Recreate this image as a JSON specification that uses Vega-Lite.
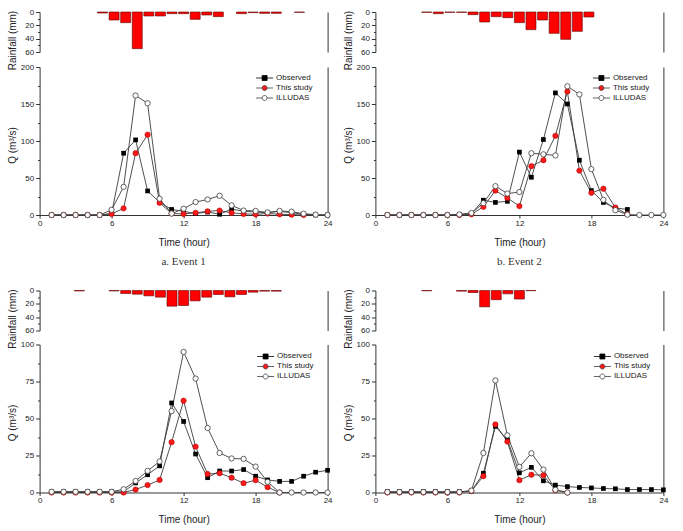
{
"$schema": "https://vega.github.io/schema/vega-lite/v6.json",
"padding": {"left": 7.6, "top": 8, "right": 0, "bottom": 0},
"config": {
  "font": "Liberation Sans",
  "view": {"stroke": null},
  "axis": {"domainColor": "#333333", "tickColor": "#333333", "labelColor": "#222222", "titleColor": "#222222", "labelFont": "Liberation Sans", "titleFont": "Liberation Sans", "labelFontSize": 8, "titleFontSize": 10, "titleFontWeight": "normal", "domainWidth": 1, "tickWidth": 1, "grid": false},
  "legend": {"labelFont": "Liberation Sans"}
},
"datasets": {
"rain": [
{"e":1,"h":5,"r":1.5},{"e":1,"h":6,"r":12},{"e":1,"h":7,"r":16},{"e":1,"h":8,"r":55},{"e":1,"h":9,"r":6},{"e":1,"h":10,"r":6},{"e":1,"h":11,"r":2.5},{"e":1,"h":12,"r":2.5},{"e":1,"h":13,"r":11},{"e":1,"h":14,"r":4.5},{"e":1,"h":15,"r":7},{"e":1,"h":17,"r":2.5},{"e":1,"h":18,"r":1},{"e":1,"h":19,"r":2},{"e":1,"h":20,"r":2},{"e":1,"h":22,"r":0.5},
{"e":2,"h":4,"r":0.5},{"e":2,"h":5,"r":2.5},{"e":2,"h":6,"r":0.5},{"e":2,"h":7,"r":0.5},{"e":2,"h":8,"r":4},{"e":2,"h":9,"r":15},{"e":2,"h":10,"r":7},{"e":2,"h":11,"r":8.5},{"e":2,"h":12,"r":16},{"e":2,"h":13,"r":26.5},{"e":2,"h":14,"r":12},{"e":2,"h":15,"r":32},{"e":2,"h":16,"r":41},{"e":2,"h":17,"r":29},{"e":2,"h":18,"r":7.5},
{"e":3,"h":3,"r":0.7},{"e":3,"h":6,"r":0.7},{"e":3,"h":7,"r":4.5},{"e":3,"h":8,"r":5.5},{"e":3,"h":9,"r":8},{"e":3,"h":10,"r":10},{"e":3,"h":11,"r":23.5},{"e":3,"h":12,"r":22.5},{"e":3,"h":13,"r":15.5},{"e":3,"h":14,"r":10},{"e":3,"h":15,"r":6},{"e":3,"h":16,"r":9.5},{"e":3,"h":17,"r":6},{"e":3,"h":18,"r":2.5},{"e":3,"h":19,"r":1},{"e":3,"h":20,"r":1},
{"e":4,"h":4,"r":0.5},{"e":4,"h":7,"r":1},{"e":4,"h":8,"r":3},{"e":4,"h":9,"r":24.5},{"e":4,"h":10,"r":13.8},{"e":4,"h":11,"r":5},{"e":4,"h":12,"r":12.8},{"e":4,"h":13,"r":0.3}
],
"flow": [
{"e":1,"s":"Observed","h":1,"q":0},{"e":1,"s":"Observed","h":2,"q":0},{"e":1,"s":"Observed","h":3,"q":0},{"e":1,"s":"Observed","h":4,"q":0},{"e":1,"s":"Observed","h":5,"q":0},{"e":1,"s":"Observed","h":6,"q":2},{"e":1,"s":"Observed","h":7,"q":83.5},{"e":1,"s":"Observed","h":8,"q":101.5},{"e":1,"s":"Observed","h":9,"q":32.5},{"e":1,"s":"Observed","h":10,"q":17},{"e":1,"s":"Observed","h":11,"q":7.5},{"e":1,"s":"Observed","h":12,"q":5},{"e":1,"s":"Observed","h":13,"q":2},{"e":1,"s":"Observed","h":14,"q":4},{"e":1,"s":"Observed","h":15,"q":1},{"e":1,"s":"Observed","h":16,"q":8},{"e":1,"s":"Observed","h":17,"q":5},{"e":1,"s":"Observed","h":18,"q":4},{"e":1,"s":"Observed","h":19,"q":3},{"e":1,"s":"Observed","h":20,"q":5},{"e":1,"s":"Observed","h":21,"q":3},{"e":1,"s":"Observed","h":22,"q":1},{"e":1,"s":"Observed","h":23,"q":0},{"e":1,"s":"Observed","h":24,"q":0},
{"e":1,"s":"This study","h":1,"q":0},{"e":1,"s":"This study","h":2,"q":0},{"e":1,"s":"This study","h":3,"q":0},{"e":1,"s":"This study","h":4,"q":0},{"e":1,"s":"This study","h":5,"q":0},{"e":1,"s":"This study","h":6,"q":1.5},{"e":1,"s":"This study","h":7,"q":9},{"e":1,"s":"This study","h":8,"q":83.5},{"e":1,"s":"This study","h":9,"q":108.5},{"e":1,"s":"This study","h":10,"q":16.5},{"e":1,"s":"This study","h":11,"q":2},{"e":1,"s":"This study","h":12,"q":1.5},{"e":1,"s":"This study","h":13,"q":3},{"e":1,"s":"This study","h":14,"q":5},{"e":1,"s":"This study","h":15,"q":6},{"e":1,"s":"This study","h":16,"q":3},{"e":1,"s":"This study","h":17,"q":1.5},{"e":1,"s":"This study","h":18,"q":1},{"e":1,"s":"This study","h":19,"q":2},{"e":1,"s":"This study","h":20,"q":1},{"e":1,"s":"This study","h":21,"q":0.5},{"e":1,"s":"This study","h":22,"q":0},
{"e":1,"s":"ILLUDAS","h":1,"q":0},{"e":1,"s":"ILLUDAS","h":2,"q":0},{"e":1,"s":"ILLUDAS","h":3,"q":0},{"e":1,"s":"ILLUDAS","h":4,"q":0},{"e":1,"s":"ILLUDAS","h":5,"q":0},{"e":1,"s":"ILLUDAS","h":6,"q":7},{"e":1,"s":"ILLUDAS","h":7,"q":38},{"e":1,"s":"ILLUDAS","h":8,"q":161.5},{"e":1,"s":"ILLUDAS","h":9,"q":151},{"e":1,"s":"ILLUDAS","h":10,"q":22},{"e":1,"s":"ILLUDAS","h":11,"q":2},{"e":1,"s":"ILLUDAS","h":12,"q":8.5},{"e":1,"s":"ILLUDAS","h":13,"q":17.5},{"e":1,"s":"ILLUDAS","h":14,"q":21},{"e":1,"s":"ILLUDAS","h":15,"q":26},{"e":1,"s":"ILLUDAS","h":16,"q":13},{"e":1,"s":"ILLUDAS","h":17,"q":6},{"e":1,"s":"ILLUDAS","h":18,"q":5.5},{"e":1,"s":"ILLUDAS","h":19,"q":3.5},{"e":1,"s":"ILLUDAS","h":20,"q":5.5},{"e":1,"s":"ILLUDAS","h":21,"q":4.5},{"e":1,"s":"ILLUDAS","h":22,"q":1.8},{"e":1,"s":"ILLUDAS","h":23,"q":0.5},{"e":1,"s":"ILLUDAS","h":24,"q":0},
{"e":2,"s":"Observed","h":1,"q":0},{"e":2,"s":"Observed","h":2,"q":0},{"e":2,"s":"Observed","h":3,"q":0},{"e":2,"s":"Observed","h":4,"q":0},{"e":2,"s":"Observed","h":5,"q":0},{"e":2,"s":"Observed","h":6,"q":0},{"e":2,"s":"Observed","h":7,"q":0.5},{"e":2,"s":"Observed","h":8,"q":2},{"e":2,"s":"Observed","h":9,"q":20},{"e":2,"s":"Observed","h":10,"q":17},{"e":2,"s":"Observed","h":11,"q":18.5},{"e":2,"s":"Observed","h":12,"q":85},{"e":2,"s":"Observed","h":13,"q":51},{"e":2,"s":"Observed","h":14,"q":102},{"e":2,"s":"Observed","h":15,"q":165},{"e":2,"s":"Observed","h":16,"q":150},{"e":2,"s":"Observed","h":17,"q":74},{"e":2,"s":"Observed","h":18,"q":33},{"e":2,"s":"Observed","h":19,"q":17},{"e":2,"s":"Observed","h":20,"q":9.5},{"e":2,"s":"Observed","h":21,"q":7.5},
{"e":2,"s":"This study","h":1,"q":0},{"e":2,"s":"This study","h":2,"q":0},{"e":2,"s":"This study","h":3,"q":0},{"e":2,"s":"This study","h":4,"q":0},{"e":2,"s":"This study","h":5,"q":0},{"e":2,"s":"This study","h":6,"q":0},{"e":2,"s":"This study","h":7,"q":0},{"e":2,"s":"This study","h":8,"q":1},{"e":2,"s":"This study","h":9,"q":11},{"e":2,"s":"This study","h":10,"q":33},{"e":2,"s":"This study","h":11,"q":23},{"e":2,"s":"This study","h":12,"q":12},{"e":2,"s":"This study","h":13,"q":66},{"e":2,"s":"This study","h":14,"q":74},{"e":2,"s":"This study","h":15,"q":107},{"e":2,"s":"This study","h":16,"q":167},{"e":2,"s":"This study","h":17,"q":60},{"e":2,"s":"This study","h":18,"q":30},{"e":2,"s":"This study","h":19,"q":35.5},{"e":2,"s":"This study","h":20,"q":10},{"e":2,"s":"This study","h":21,"q":1},
{"e":2,"s":"ILLUDAS","h":1,"q":0},{"e":2,"s":"ILLUDAS","h":2,"q":0},{"e":2,"s":"ILLUDAS","h":3,"q":0},{"e":2,"s":"ILLUDAS","h":4,"q":0},{"e":2,"s":"ILLUDAS","h":5,"q":0},{"e":2,"s":"ILLUDAS","h":6,"q":0},{"e":2,"s":"ILLUDAS","h":7,"q":0.8},{"e":2,"s":"ILLUDAS","h":8,"q":2.7},{"e":2,"s":"ILLUDAS","h":9,"q":16},{"e":2,"s":"ILLUDAS","h":10,"q":39},{"e":2,"s":"ILLUDAS","h":11,"q":29},{"e":2,"s":"ILLUDAS","h":12,"q":31},{"e":2,"s":"ILLUDAS","h":13,"q":83.5},{"e":2,"s":"ILLUDAS","h":14,"q":82},{"e":2,"s":"ILLUDAS","h":15,"q":80.5},{"e":2,"s":"ILLUDAS","h":16,"q":174},{"e":2,"s":"ILLUDAS","h":17,"q":163},{"e":2,"s":"ILLUDAS","h":18,"q":62},{"e":2,"s":"ILLUDAS","h":19,"q":20.5},{"e":2,"s":"ILLUDAS","h":20,"q":6.5},{"e":2,"s":"ILLUDAS","h":21,"q":0.5},{"e":2,"s":"ILLUDAS","h":22,"q":0},{"e":2,"s":"ILLUDAS","h":23,"q":0},{"e":2,"s":"ILLUDAS","h":24,"q":0},
{"e":3,"s":"Observed","h":1,"q":0.5},{"e":3,"s":"Observed","h":2,"q":0.5},{"e":3,"s":"Observed","h":3,"q":0.5},{"e":3,"s":"Observed","h":4,"q":0.5},{"e":3,"s":"Observed","h":5,"q":0.5},{"e":3,"s":"Observed","h":6,"q":0.5},{"e":3,"s":"Observed","h":7,"q":0.5},{"e":3,"s":"Observed","h":8,"q":6.5},{"e":3,"s":"Observed","h":9,"q":12},{"e":3,"s":"Observed","h":10,"q":18},{"e":3,"s":"Observed","h":11,"q":60.5},{"e":3,"s":"Observed","h":12,"q":48},{"e":3,"s":"Observed","h":13,"q":26},{"e":3,"s":"Observed","h":14,"q":10},{"e":3,"s":"Observed","h":15,"q":14.5},{"e":3,"s":"Observed","h":16,"q":14.5},{"e":3,"s":"Observed","h":17,"q":15.5},{"e":3,"s":"Observed","h":18,"q":11},{"e":3,"s":"Observed","h":19,"q":8.5},{"e":3,"s":"Observed","h":20,"q":7.5},{"e":3,"s":"Observed","h":21,"q":7.5},{"e":3,"s":"Observed","h":22,"q":11},{"e":3,"s":"Observed","h":23,"q":13.7},{"e":3,"s":"Observed","h":24,"q":15},
{"e":3,"s":"This study","h":1,"q":0},{"e":3,"s":"This study","h":2,"q":0},{"e":3,"s":"This study","h":3,"q":0},{"e":3,"s":"This study","h":4,"q":0},{"e":3,"s":"This study","h":5,"q":0},{"e":3,"s":"This study","h":6,"q":0},{"e":3,"s":"This study","h":7,"q":0},{"e":3,"s":"This study","h":8,"q":2},{"e":3,"s":"This study","h":9,"q":5},{"e":3,"s":"This study","h":10,"q":8.5},{"e":3,"s":"This study","h":11,"q":34},{"e":3,"s":"This study","h":12,"q":62},{"e":3,"s":"This study","h":13,"q":31},{"e":3,"s":"This study","h":14,"q":12.5},{"e":3,"s":"This study","h":15,"q":13},{"e":3,"s":"This study","h":16,"q":10},{"e":3,"s":"This study","h":17,"q":6.3},{"e":3,"s":"This study","h":18,"q":8.3},{"e":3,"s":"This study","h":19,"q":3.6},{"e":3,"s":"This study","h":20,"q":0},
{"e":3,"s":"ILLUDAS","h":1,"q":0.5},{"e":3,"s":"ILLUDAS","h":2,"q":0.5},{"e":3,"s":"ILLUDAS","h":3,"q":0.5},{"e":3,"s":"ILLUDAS","h":4,"q":0.5},{"e":3,"s":"ILLUDAS","h":5,"q":0.5},{"e":3,"s":"ILLUDAS","h":6,"q":0.5},{"e":3,"s":"ILLUDAS","h":7,"q":2.2},{"e":3,"s":"ILLUDAS","h":8,"q":7.8},{"e":3,"s":"ILLUDAS","h":9,"q":14.6},{"e":3,"s":"ILLUDAS","h":10,"q":21},{"e":3,"s":"ILLUDAS","h":11,"q":55},{"e":3,"s":"ILLUDAS","h":12,"q":95},{"e":3,"s":"ILLUDAS","h":13,"q":77},{"e":3,"s":"ILLUDAS","h":14,"q":43.6},{"e":3,"s":"ILLUDAS","h":15,"q":26.7},{"e":3,"s":"ILLUDAS","h":16,"q":23},{"e":3,"s":"ILLUDAS","h":17,"q":22.7},{"e":3,"s":"ILLUDAS","h":18,"q":17.5},{"e":3,"s":"ILLUDAS","h":19,"q":7.2},{"e":3,"s":"ILLUDAS","h":20,"q":0},{"e":3,"s":"ILLUDAS","h":21,"q":0},{"e":3,"s":"ILLUDAS","h":22,"q":0},{"e":3,"s":"ILLUDAS","h":23,"q":0},{"e":3,"s":"ILLUDAS","h":24,"q":0},
{"e":4,"s":"Observed","h":1,"q":0.5},{"e":4,"s":"Observed","h":2,"q":0.5},{"e":4,"s":"Observed","h":3,"q":0.5},{"e":4,"s":"Observed","h":4,"q":0.5},{"e":4,"s":"Observed","h":5,"q":0.5},{"e":4,"s":"Observed","h":6,"q":0.5},{"e":4,"s":"Observed","h":7,"q":0.5},{"e":4,"s":"Observed","h":8,"q":1},{"e":4,"s":"Observed","h":9,"q":13},{"e":4,"s":"Observed","h":10,"q":44.7},{"e":4,"s":"Observed","h":11,"q":35.5},{"e":4,"s":"Observed","h":12,"q":13.3},{"e":4,"s":"Observed","h":13,"q":17},{"e":4,"s":"Observed","h":14,"q":7.9},{"e":4,"s":"Observed","h":15,"q":5},{"e":4,"s":"Observed","h":16,"q":4},{"e":4,"s":"Observed","h":17,"q":3.4},{"e":4,"s":"Observed","h":18,"q":3.1},{"e":4,"s":"Observed","h":19,"q":2.7},{"e":4,"s":"Observed","h":20,"q":2.5},{"e":4,"s":"Observed","h":21,"q":2},{"e":4,"s":"Observed","h":22,"q":2},{"e":4,"s":"Observed","h":23,"q":2},{"e":4,"s":"Observed","h":24,"q":1.8},
{"e":4,"s":"This study","h":1,"q":0},{"e":4,"s":"This study","h":2,"q":0},{"e":4,"s":"This study","h":3,"q":0},{"e":4,"s":"This study","h":4,"q":0},{"e":4,"s":"This study","h":5,"q":0},{"e":4,"s":"This study","h":6,"q":0},{"e":4,"s":"This study","h":7,"q":0},{"e":4,"s":"This study","h":8,"q":1},{"e":4,"s":"This study","h":9,"q":11},{"e":4,"s":"This study","h":10,"q":46},{"e":4,"s":"This study","h":11,"q":34.4},{"e":4,"s":"This study","h":12,"q":8.3},{"e":4,"s":"This study","h":13,"q":12},{"e":4,"s":"This study","h":14,"q":11.7},{"e":4,"s":"This study","h":15,"q":1.5},{"e":4,"s":"This study","h":16,"q":0},
{"e":4,"s":"ILLUDAS","h":1,"q":0.3},{"e":4,"s":"ILLUDAS","h":2,"q":0.3},{"e":4,"s":"ILLUDAS","h":3,"q":0.3},{"e":4,"s":"ILLUDAS","h":4,"q":0.3},{"e":4,"s":"ILLUDAS","h":5,"q":0.3},{"e":4,"s":"ILLUDAS","h":6,"q":0.3},{"e":4,"s":"ILLUDAS","h":7,"q":0.3},{"e":4,"s":"ILLUDAS","h":8,"q":1.3},{"e":4,"s":"ILLUDAS","h":9,"q":26.7},{"e":4,"s":"ILLUDAS","h":10,"q":75.7},{"e":4,"s":"ILLUDAS","h":11,"q":38.6},{"e":4,"s":"ILLUDAS","h":12,"q":17.3},{"e":4,"s":"ILLUDAS","h":13,"q":26.5},{"e":4,"s":"ILLUDAS","h":14,"q":15.5},{"e":4,"s":"ILLUDAS","h":15,"q":1.8},{"e":4,"s":"ILLUDAS","h":16,"q":0}
]
},
"spacing": 19.5,
"resolve": {"scale": {"shape": "independent", "fill": "independent", "stroke": "independent"}, "legend": {"shape": "independent", "fill": "independent", "stroke": "independent"}},
"vconcat": [
{"hconcat": [
 {"vconcat": [
  {"width": 288, "height": 40, "data": {"name": "rain"}, "transform": [{"filter": "datum.e === 1"}],
   "layer": [
    {"mark": {"type": "bar", "color": "#ff0000", "stroke": "#600000", "strokeWidth": 0.6, "size": 10},
     "encoding": {
      "x": {"field": "h", "type": "quantitative", "scale": {"domain": [0, 24], "nice": false, "zero": false}, "axis": {"orient": "top", "values": [0,3,6,9,12,15,18,21,24], "labelExpr": "datum.value % 6 === 0 ? datum.label : ''", "tickSize": {"condition": {"test": "datum.value % 6 === 0", "value": 3}, "value": 2}, "labelPadding": 2, "labelFlush": false, "labelOverlap": false, "title": null}},
      "y": {"field": "r", "type": "quantitative", "scale": {"domain": [0, 60], "reverse": true, "nice": false}, "axis": {"orient": "left", "values": [0,10,20,30,40,50,60], "labelExpr": "datum.value % 20 === 0 ? datum.label : ''", "tickSize": {"condition": {"test": "datum.value % 20 === 0", "value": 4}, "value": 2}, "labelPadding": 2, "labelOverlap": false, "title": "Rainfall (mm)", "titleX": -22, "titleY": 28}}}},
    {"mark": {"type": "bar", "opacity": 0},
     "encoding": {
      "x": {"field": "h", "type": "quantitative", "scale": {"domain": [0, 24], "nice": false, "zero": false}, "axis": null},
      "y": {"field": "r", "type": "quantitative", "scale": {"domain": [0, 60], "reverse": true, "nice": false}, "axis": {"orient": "right", "labels": false, "ticks": false, "title": null}}}}
   ],
   "resolve": {"axis": {"y": "independent"}}},
  {"width": 288, "height": 148, "data": {"name": "flow"}, "transform": [{"filter": "datum.e === 1"}],
   "title": {"text": "a. Event 1", "orient": "bottom", "font": "Liberation Serif", "fontSize": 11, "fontWeight": "normal", "color": "#333333", "offset": 9},
   "layer": [
    {"mark": {"type": "line", "color": "#3c3c3c", "strokeWidth": 0.9},
     "encoding": {
      "x": {"field": "h", "type": "quantitative", "scale": {"domain": [0, 24], "nice": false, "zero": false}, "axis": {"orient": "bottom", "values": [0,3,6,9,12,15,18,21,24], "labelExpr": "datum.value % 6 === 0 ? datum.label : ''", "tickSize": {"condition": {"test": "datum.value % 6 === 0", "value": 3}, "value": 2}, "labelPadding": 1, "labelFlush": false, "labelOverlap": false, "title": "Time (hour)", "titlePadding": 10}},
      "y": {"field": "q", "type": "quantitative", "scale": {"domain": [0, 200], "nice": false}, "axis": {"orient": "left", "values": [0,25,50,75,100,125,150,175,200], "labelExpr": "datum.value % 50 === 0 ? datum.label : ''", "tickSize": {"condition": {"test": "datum.value % 50 === 0", "value": 4}, "value": 2}, "labelPadding": 2, "labelOverlap": false, "title": "Q (m³/s)", "titleX": -22, "titleY": 78}},
      "detail": {"field": "s"}}},
    {"transform": [{"filter": "datum.s === 'Observed'"}], "mark": {"type": "point", "shape": "square", "filled": true, "color": "#000000", "size": 22, "opacity": 1},
     "encoding": {"x": {"field": "h", "type": "quantitative"}, "y": {"field": "q", "type": "quantitative", "axis": null}}},
    {"transform": [{"filter": "datum.s === 'This study'"}], "mark": {"type": "point", "shape": "circle", "filled": true, "fill": "#ff1a1a", "stroke": "#b00000", "strokeWidth": 0.6, "size": 28, "opacity": 1},
     "encoding": {"x": {"field": "h", "type": "quantitative"}, "y": {"field": "q", "type": "quantitative", "axis": null}}},
    {"transform": [{"filter": "datum.s === 'ILLUDAS'"}], "mark": {"type": "point", "shape": "circle", "filled": true, "fill": "#ffffff", "stroke": "#3c3c3c", "strokeWidth": 0.8, "size": 28, "opacity": 1},
     "encoding": {"x": {"field": "h", "type": "quantitative"}, "y": {"field": "q", "type": "quantitative", "axis": null}}},
    {"transform": [{"filter": "false"}], "mark": {"type": "point", "filled": true, "opacity": 1},
     "encoding": {
      "y": {"field": "q", "type": "quantitative", "scale": {"domain": [0, 200], "nice": false}, "axis": {"orient": "right", "labels": false, "ticks": false, "title": null}},
      "shape": {"field": "s", "type": "nominal", "title": null, "scale": {"domain": ["Observed", "This study", "ILLUDAS"], "range": ["M-3.4,0H3.4M-1,-1H1V1H-1Z", "M-3.4,0H-1M1,0H3.4M-1,0A1,1,0,1,0,1,0A1,1,0,1,0,-1,0Z", "M-3.4,0H-1M1,0H3.4M-1,0A1,1,0,1,0,1,0A1,1,0,1,0,-1,0Z"]}, "legend": {"orient": "none", "legendX": 221, "legendY": 7, "labelFontSize": 8, "symbolSize": 25, "rowPadding": 0, "labelOffset": 7.5, "padding": 0, "symbolStrokeWidth": 0.8, "labelColor": "#222222"}},
      "fill": {"field": "s", "type": "nominal", "title": null, "scale": {"domain": ["Observed", "This study", "ILLUDAS"], "range": ["#000000", "#ff1a1a", "#ffffff"]}, "legend": {"orient": "none", "legendX": 221, "legendY": 7, "labelFontSize": 8, "symbolSize": 25, "rowPadding": 0, "labelOffset": 7.5, "padding": 0, "symbolStrokeWidth": 0.8, "labelColor": "#222222"}},
      "stroke": {"field": "s", "type": "nominal", "title": null, "scale": {"domain": ["Observed", "This study", "ILLUDAS"], "range": ["#000000", "#3c3c3c", "#3c3c3c"]}, "legend": {"orient": "none", "legendX": 221, "legendY": 7, "labelFontSize": 8, "symbolSize": 25, "rowPadding": 0, "labelOffset": 7.5, "padding": 0, "symbolStrokeWidth": 0.8, "labelColor": "#222222"}}}}
   ],
   "resolve": {"axis": {"y": "independent"}}}
 ], "spacing": 15, "bounds": "flush",
 "resolve": {"scale": {"shape": "independent", "fill": "independent", "stroke": "independent"}, "legend": {"shape": "independent", "fill": "independent", "stroke": "independent"}}},
 {"vconcat": [
  {"width": 288, "height": 40, "data": {"name": "rain"}, "transform": [{"filter": "datum.e === 2"}],
   "layer": [
    {"mark": {"type": "bar", "color": "#ff0000", "stroke": "#600000", "strokeWidth": 0.6, "size": 10},
     "encoding": {
      "x": {"field": "h", "type": "quantitative", "scale": {"domain": [0, 24], "nice": false, "zero": false}, "axis": {"orient": "top", "values": [0,3,6,9,12,15,18,21,24], "labelExpr": "datum.value % 6 === 0 ? datum.label : ''", "tickSize": {"condition": {"test": "datum.value % 6 === 0", "value": 3}, "value": 2}, "labelPadding": 2, "labelFlush": false, "labelOverlap": false, "title": null}},
      "y": {"field": "r", "type": "quantitative", "scale": {"domain": [0, 60], "reverse": true, "nice": false}, "axis": {"orient": "left", "values": [0,10,20,30,40,50,60], "labelExpr": "datum.value % 20 === 0 ? datum.label : ''", "tickSize": {"condition": {"test": "datum.value % 20 === 0", "value": 4}, "value": 2}, "labelPadding": 2, "labelOverlap": false, "title": "Rainfall (mm)", "titleX": -22, "titleY": 28}}}},
    {"mark": {"type": "bar", "opacity": 0},
     "encoding": {
      "x": {"field": "h", "type": "quantitative", "scale": {"domain": [0, 24], "nice": false, "zero": false}, "axis": null},
      "y": {"field": "r", "type": "quantitative", "scale": {"domain": [0, 60], "reverse": true, "nice": false}, "axis": {"orient": "right", "labels": false, "ticks": false, "title": null}}}}
   ],
   "resolve": {"axis": {"y": "independent"}}},
  {"width": 288, "height": 148, "data": {"name": "flow"}, "transform": [{"filter": "datum.e === 2"}],
   "title": {"text": "b. Event 2", "orient": "bottom", "font": "Liberation Serif", "fontSize": 11, "fontWeight": "normal", "color": "#333333", "offset": 9},
   "layer": [
    {"mark": {"type": "line", "color": "#3c3c3c", "strokeWidth": 0.9},
     "encoding": {
      "x": {"field": "h", "type": "quantitative", "scale": {"domain": [0, 24], "nice": false, "zero": false}, "axis": {"orient": "bottom", "values": [0,3,6,9,12,15,18,21,24], "labelExpr": "datum.value % 6 === 0 ? datum.label : ''", "tickSize": {"condition": {"test": "datum.value % 6 === 0", "value": 3}, "value": 2}, "labelPadding": 1, "labelFlush": false, "labelOverlap": false, "title": "Time (hour)", "titlePadding": 10}},
      "y": {"field": "q", "type": "quantitative", "scale": {"domain": [0, 200], "nice": false}, "axis": {"orient": "left", "values": [0,25,50,75,100,125,150,175,200], "labelExpr": "datum.value % 50 === 0 ? datum.label : ''", "tickSize": {"condition": {"test": "datum.value % 50 === 0", "value": 4}, "value": 2}, "labelPadding": 2, "labelOverlap": false, "title": "Q (m³/s)", "titleX": -22, "titleY": 78}},
      "detail": {"field": "s"}}},
    {"transform": [{"filter": "datum.s === 'Observed'"}], "mark": {"type": "point", "shape": "square", "filled": true, "color": "#000000", "size": 22, "opacity": 1},
     "encoding": {"x": {"field": "h", "type": "quantitative"}, "y": {"field": "q", "type": "quantitative", "axis": null}}},
    {"transform": [{"filter": "datum.s === 'This study'"}], "mark": {"type": "point", "shape": "circle", "filled": true, "fill": "#ff1a1a", "stroke": "#b00000", "strokeWidth": 0.6, "size": 28, "opacity": 1},
     "encoding": {"x": {"field": "h", "type": "quantitative"}, "y": {"field": "q", "type": "quantitative", "axis": null}}},
    {"transform": [{"filter": "datum.s === 'ILLUDAS'"}], "mark": {"type": "point", "shape": "circle", "filled": true, "fill": "#ffffff", "stroke": "#3c3c3c", "strokeWidth": 0.8, "size": 28, "opacity": 1},
     "encoding": {"x": {"field": "h", "type": "quantitative"}, "y": {"field": "q", "type": "quantitative", "axis": null}}},
    {"transform": [{"filter": "false"}], "mark": {"type": "point", "filled": true, "opacity": 1},
     "encoding": {
      "y": {"field": "q", "type": "quantitative", "scale": {"domain": [0, 200], "nice": false}, "axis": {"orient": "right", "labels": false, "ticks": false, "title": null}},
      "shape": {"field": "s", "type": "nominal", "title": null, "scale": {"domain": ["Observed", "This study", "ILLUDAS"], "range": ["M-3.4,0H3.4M-1,-1H1V1H-1Z", "M-3.4,0H-1M1,0H3.4M-1,0A1,1,0,1,0,1,0A1,1,0,1,0,-1,0Z", "M-3.4,0H-1M1,0H3.4M-1,0A1,1,0,1,0,1,0A1,1,0,1,0,-1,0Z"]}, "legend": {"orient": "none", "legendX": 222, "legendY": 7, "labelFontSize": 8, "symbolSize": 25, "rowPadding": 0, "labelOffset": 7.5, "padding": 0, "symbolStrokeWidth": 0.8, "labelColor": "#222222"}},
      "fill": {"field": "s", "type": "nominal", "title": null, "scale": {"domain": ["Observed", "This study", "ILLUDAS"], "range": ["#000000", "#ff1a1a", "#ffffff"]}, "legend": {"orient": "none", "legendX": 222, "legendY": 7, "labelFontSize": 8, "symbolSize": 25, "rowPadding": 0, "labelOffset": 7.5, "padding": 0, "symbolStrokeWidth": 0.8, "labelColor": "#222222"}},
      "stroke": {"field": "s", "type": "nominal", "title": null, "scale": {"domain": ["Observed", "This study", "ILLUDAS"], "range": ["#000000", "#3c3c3c", "#3c3c3c"]}, "legend": {"orient": "none", "legendX": 222, "legendY": 7, "labelFontSize": 8, "symbolSize": 25, "rowPadding": 0, "labelOffset": 7.5, "padding": 0, "symbolStrokeWidth": 0.8, "labelColor": "#222222"}}}}
   ],
   "resolve": {"axis": {"y": "independent"}}}
 ], "spacing": 15, "bounds": "flush",
 "resolve": {"scale": {"shape": "independent", "fill": "independent", "stroke": "independent"}, "legend": {"shape": "independent", "fill": "independent", "stroke": "independent"}}}
], "spacing": 10.8,
"resolve": {"scale": {"shape": "independent", "fill": "independent", "stroke": "independent"}, "legend": {"shape": "independent", "fill": "independent", "stroke": "independent"}}},
{"hconcat": [
 {"vconcat": [
  {"width": 288, "height": 40, "data": {"name": "rain"}, "transform": [{"filter": "datum.e === 3"}],
   "layer": [
    {"mark": {"type": "bar", "color": "#ff0000", "stroke": "#600000", "strokeWidth": 0.6, "size": 10},
     "encoding": {
      "x": {"field": "h", "type": "quantitative", "scale": {"domain": [0, 24], "nice": false, "zero": false}, "axis": {"orient": "top", "values": [0,3,6,9,12,15,18,21,24], "labelExpr": "datum.value % 6 === 0 ? datum.label : ''", "tickSize": {"condition": {"test": "datum.value % 6 === 0", "value": 3}, "value": 2}, "labelPadding": 2, "labelFlush": false, "labelOverlap": false, "title": null}},
      "y": {"field": "r", "type": "quantitative", "scale": {"domain": [0, 60], "reverse": true, "nice": false}, "axis": {"orient": "left", "values": [0,10,20,30,40,50,60], "labelExpr": "datum.value % 20 === 0 ? datum.label : ''", "tickSize": {"condition": {"test": "datum.value % 20 === 0", "value": 4}, "value": 2}, "labelPadding": 2, "labelOverlap": false, "title": "Rainfall (mm)", "titleX": -22, "titleY": 28}}}},
    {"mark": {"type": "bar", "opacity": 0},
     "encoding": {
      "x": {"field": "h", "type": "quantitative", "scale": {"domain": [0, 24], "nice": false, "zero": false}, "axis": null},
      "y": {"field": "r", "type": "quantitative", "scale": {"domain": [0, 60], "reverse": true, "nice": false}, "axis": {"orient": "right", "labels": false, "ticks": false, "title": null}}}}
   ],
   "resolve": {"axis": {"y": "independent"}}},
  {"width": 288, "height": 148, "data": {"name": "flow"}, "transform": [{"filter": "datum.e === 3"}],
   "layer": [
    {"mark": {"type": "line", "color": "#3c3c3c", "strokeWidth": 0.9},
     "encoding": {
      "x": {"field": "h", "type": "quantitative", "scale": {"domain": [0, 24], "nice": false, "zero": false}, "axis": {"orient": "bottom", "values": [0,3,6,9,12,15,18,21,24], "labelExpr": "datum.value % 6 === 0 ? datum.label : ''", "tickSize": {"condition": {"test": "datum.value % 6 === 0", "value": 3}, "value": 2}, "labelPadding": 1, "labelFlush": false, "labelOverlap": false, "title": "Time (hour)", "titlePadding": 10}},
      "y": {"field": "q", "type": "quantitative", "scale": {"domain": [0, 100], "nice": false}, "axis": {"orient": "left", "values": [0,12.5,25,37.5,50,62.5,75,87.5,100], "labelExpr": "datum.value % 25 === 0 ? datum.label : ''", "tickSize": {"condition": {"test": "datum.value % 25 === 0", "value": 4}, "value": 2}, "labelPadding": 2, "labelOverlap": false, "title": "Q (m³/s)", "titleX": -22, "titleY": 78}},
      "detail": {"field": "s"}}},
    {"transform": [{"filter": "datum.s === 'Observed'"}], "mark": {"type": "point", "shape": "square", "filled": true, "color": "#000000", "size": 22, "opacity": 1},
     "encoding": {"x": {"field": "h", "type": "quantitative"}, "y": {"field": "q", "type": "quantitative", "axis": null}}},
    {"transform": [{"filter": "datum.s === 'This study'"}], "mark": {"type": "point", "shape": "circle", "filled": true, "fill": "#ff1a1a", "stroke": "#b00000", "strokeWidth": 0.6, "size": 28, "opacity": 1},
     "encoding": {"x": {"field": "h", "type": "quantitative"}, "y": {"field": "q", "type": "quantitative", "axis": null}}},
    {"transform": [{"filter": "datum.s === 'ILLUDAS'"}], "mark": {"type": "point", "shape": "circle", "filled": true, "fill": "#ffffff", "stroke": "#3c3c3c", "strokeWidth": 0.8, "size": 28, "opacity": 1},
     "encoding": {"x": {"field": "h", "type": "quantitative"}, "y": {"field": "q", "type": "quantitative", "axis": null}}},
    {"transform": [{"filter": "false"}], "mark": {"type": "point", "filled": true, "opacity": 1},
     "encoding": {
      "y": {"field": "q", "type": "quantitative", "scale": {"domain": [0, 100], "nice": false}, "axis": {"orient": "right", "labels": false, "ticks": false, "title": null}},
      "shape": {"field": "s", "type": "nominal", "title": null, "scale": {"domain": ["Observed", "This study", "ILLUDAS"], "range": ["M-3.4,0H3.4M-1,-1H1V1H-1Z", "M-3.4,0H-1M1,0H3.4M-1,0A1,1,0,1,0,1,0A1,1,0,1,0,-1,0Z", "M-3.4,0H-1M1,0H3.4M-1,0A1,1,0,1,0,1,0A1,1,0,1,0,-1,0Z"]}, "legend": {"orient": "none", "legendX": 222, "legendY": 8, "labelFontSize": 8, "symbolSize": 25, "rowPadding": 0, "labelOffset": 7.5, "padding": 0, "symbolStrokeWidth": 0.8, "labelColor": "#222222"}},
      "fill": {"field": "s", "type": "nominal", "title": null, "scale": {"domain": ["Observed", "This study", "ILLUDAS"], "range": ["#000000", "#ff1a1a", "#ffffff"]}, "legend": {"orient": "none", "legendX": 222, "legendY": 8, "labelFontSize": 8, "symbolSize": 25, "rowPadding": 0, "labelOffset": 7.5, "padding": 0, "symbolStrokeWidth": 0.8, "labelColor": "#222222"}},
      "stroke": {"field": "s", "type": "nominal", "title": null, "scale": {"domain": ["Observed", "This study", "ILLUDAS"], "range": ["#000000", "#3c3c3c", "#3c3c3c"]}, "legend": {"orient": "none", "legendX": 222, "legendY": 8, "labelFontSize": 8, "symbolSize": 25, "rowPadding": 0, "labelOffset": 7.5, "padding": 0, "symbolStrokeWidth": 0.8, "labelColor": "#222222"}}}}
   ],
   "resolve": {"axis": {"y": "independent"}}}
 ], "spacing": 14, "bounds": "flush",
 "resolve": {"scale": {"shape": "independent", "fill": "independent", "stroke": "independent"}, "legend": {"shape": "independent", "fill": "independent", "stroke": "independent"}}},
 {"vconcat": [
  {"width": 288, "height": 40, "data": {"name": "rain"}, "transform": [{"filter": "datum.e === 4"}],
   "layer": [
    {"mark": {"type": "bar", "color": "#ff0000", "stroke": "#600000", "strokeWidth": 0.6, "size": 10},
     "encoding": {
      "x": {"field": "h", "type": "quantitative", "scale": {"domain": [0, 24], "nice": false, "zero": false}, "axis": {"orient": "top", "values": [0,3,6,9,12,15,18,21,24], "labelExpr": "datum.value % 6 === 0 ? datum.label : ''", "tickSize": {"condition": {"test": "datum.value % 6 === 0", "value": 3}, "value": 2}, "labelPadding": 2, "labelFlush": false, "labelOverlap": false, "title": null}},
      "y": {"field": "r", "type": "quantitative", "scale": {"domain": [0, 60], "reverse": true, "nice": false}, "axis": {"orient": "left", "values": [0,10,20,30,40,50,60], "labelExpr": "datum.value % 20 === 0 ? datum.label : ''", "tickSize": {"condition": {"test": "datum.value % 20 === 0", "value": 4}, "value": 2}, "labelPadding": 2, "labelOverlap": false, "title": "Rainfall (mm)", "titleX": -22, "titleY": 28}}}},
    {"mark": {"type": "bar", "opacity": 0},
     "encoding": {
      "x": {"field": "h", "type": "quantitative", "scale": {"domain": [0, 24], "nice": false, "zero": false}, "axis": null},
      "y": {"field": "r", "type": "quantitative", "scale": {"domain": [0, 60], "reverse": true, "nice": false}, "axis": {"orient": "right", "labels": false, "ticks": false, "title": null}}}}
   ],
   "resolve": {"axis": {"y": "independent"}}},
  {"width": 288, "height": 148, "data": {"name": "flow"}, "transform": [{"filter": "datum.e === 4"}],
   "layer": [
    {"mark": {"type": "line", "color": "#3c3c3c", "strokeWidth": 0.9},
     "encoding": {
      "x": {"field": "h", "type": "quantitative", "scale": {"domain": [0, 24], "nice": false, "zero": false}, "axis": {"orient": "bottom", "values": [0,3,6,9,12,15,18,21,24], "labelExpr": "datum.value % 6 === 0 ? datum.label : ''", "tickSize": {"condition": {"test": "datum.value % 6 === 0", "value": 3}, "value": 2}, "labelPadding": 1, "labelFlush": false, "labelOverlap": false, "title": "Time (hour)", "titlePadding": 10}},
      "y": {"field": "q", "type": "quantitative", "scale": {"domain": [0, 100], "nice": false}, "axis": {"orient": "left", "values": [0,12.5,25,37.5,50,62.5,75,87.5,100], "labelExpr": "datum.value % 25 === 0 ? datum.label : ''", "tickSize": {"condition": {"test": "datum.value % 25 === 0", "value": 4}, "value": 2}, "labelPadding": 2, "labelOverlap": false, "title": "Q (m³/s)", "titleX": -22, "titleY": 78}},
      "detail": {"field": "s"}}},
    {"transform": [{"filter": "datum.s === 'Observed'"}], "mark": {"type": "point", "shape": "square", "filled": true, "color": "#000000", "size": 22, "opacity": 1},
     "encoding": {"x": {"field": "h", "type": "quantitative"}, "y": {"field": "q", "type": "quantitative", "axis": null}}},
    {"transform": [{"filter": "datum.s === 'This study'"}], "mark": {"type": "point", "shape": "circle", "filled": true, "fill": "#ff1a1a", "stroke": "#b00000", "strokeWidth": 0.6, "size": 28, "opacity": 1},
     "encoding": {"x": {"field": "h", "type": "quantitative"}, "y": {"field": "q", "type": "quantitative", "axis": null}}},
    {"transform": [{"filter": "datum.s === 'ILLUDAS'"}], "mark": {"type": "point", "shape": "circle", "filled": true, "fill": "#ffffff", "stroke": "#3c3c3c", "strokeWidth": 0.8, "size": 28, "opacity": 1},
     "encoding": {"x": {"field": "h", "type": "quantitative"}, "y": {"field": "q", "type": "quantitative", "axis": null}}},
    {"transform": [{"filter": "false"}], "mark": {"type": "point", "filled": true, "opacity": 1},
     "encoding": {
      "y": {"field": "q", "type": "quantitative", "scale": {"domain": [0, 100], "nice": false}, "axis": {"orient": "right", "labels": false, "ticks": false, "title": null}},
      "shape": {"field": "s", "type": "nominal", "title": null, "scale": {"domain": ["Observed", "This study", "ILLUDAS"], "range": ["M-3.4,0H3.4M-1,-1H1V1H-1Z", "M-3.4,0H-1M1,0H3.4M-1,0A1,1,0,1,0,1,0A1,1,0,1,0,-1,0Z", "M-3.4,0H-1M1,0H3.4M-1,0A1,1,0,1,0,1,0A1,1,0,1,0,-1,0Z"]}, "legend": {"orient": "none", "legendX": 223, "legendY": 8, "labelFontSize": 8, "symbolSize": 25, "rowPadding": 0, "labelOffset": 7.5, "padding": 0, "symbolStrokeWidth": 0.8, "labelColor": "#222222"}},
      "fill": {"field": "s", "type": "nominal", "title": null, "scale": {"domain": ["Observed", "This study", "ILLUDAS"], "range": ["#000000", "#ff1a1a", "#ffffff"]}, "legend": {"orient": "none", "legendX": 223, "legendY": 8, "labelFontSize": 8, "symbolSize": 25, "rowPadding": 0, "labelOffset": 7.5, "padding": 0, "symbolStrokeWidth": 0.8, "labelColor": "#222222"}},
      "stroke": {"field": "s", "type": "nominal", "title": null, "scale": {"domain": ["Observed", "This study", "ILLUDAS"], "range": ["#000000", "#3c3c3c", "#3c3c3c"]}, "legend": {"orient": "none", "legendX": 223, "legendY": 8, "labelFontSize": 8, "symbolSize": 25, "rowPadding": 0, "labelOffset": 7.5, "padding": 0, "symbolStrokeWidth": 0.8, "labelColor": "#222222"}}}}
   ],
   "resolve": {"axis": {"y": "independent"}}}
 ], "spacing": 14, "bounds": "flush",
 "resolve": {"scale": {"shape": "independent", "fill": "independent", "stroke": "independent"}, "legend": {"shape": "independent", "fill": "independent", "stroke": "independent"}}}
], "spacing": 10.8,
"resolve": {"scale": {"shape": "independent", "fill": "independent", "stroke": "independent"}, "legend": {"shape": "independent", "fill": "independent", "stroke": "independent"}}}
]
}
